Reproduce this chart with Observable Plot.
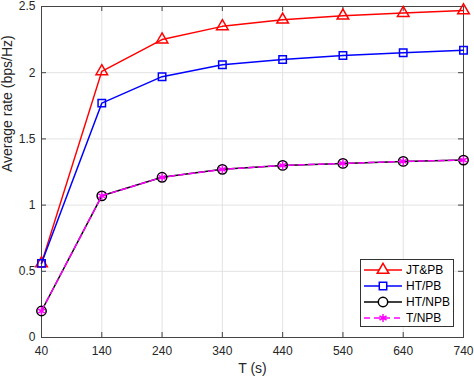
<!DOCTYPE html>
<html><head><meta charset="utf-8">
<script src="https://cdn.jsdelivr.net/npm/d3@7"></script>
<script src="https://cdn.jsdelivr.net/npm/@observablehq/plot@0.6"></script>
<style>
body{margin:0;background:#fff;font-family:"Liberation Sans",Arial,sans-serif;}
#wrap{position:relative;width:474px;height:379px;}
#legend{position:absolute;left:360px;top:259px;width:94px;height:68px;border:1px solid #333;background:#fff;box-sizing:border-box;}
</style></head>
<body><div id="wrap"><div id="legend"></div></div>
<script>
const T = [40, 140, 240, 340, 440, 540, 640, 740];
const jtpb = [0.56, 2.01, 2.25, 2.35, 2.40, 2.43, 2.45, 2.47];
const htpb = [0.56, 1.77, 1.97, 2.06, 2.10, 2.13, 2.15, 2.17];
const htnpb = [0.20, 1.07, 1.21, 1.27, 1.30, 1.315, 1.33, 1.34];
const tnpb = [0.20, 1.07, 1.21, 1.27, 1.30, 1.315, 1.33, 1.34];
const xTicks = [40, 140, 240, 340, 440, 540, 640, 740];
const yTicks = [0, 0.5, 1, 1.5, 2, 2.5];
const xLabel = "T (s)";
const yLabel = "Average rate (bps/Hz)";
const series = [
  {name: "JT&PB", values: jtpb, color: "#ff0000", symbol: "triangle", r: 4.3, dash: null},
  {name: "HT/PB", values: htpb, color: "#0000ff", symbol: "square", r: 4.2, dash: null},
  {name: "HT/NPB", values: htnpb, color: "#000000", symbol: "circle", r: 4.7, dash: null},
  {name: "T/NPB", values: tnpb, color: "#ff00ff", symbol: "asterisk", r: 3.8, dash: "6,4"}
];
const W = 474, H = 379, mL = 41, mR = 11, mT = 6, mB = 42;
const pw = W - mL - mR, ph = H - mT - mB;
const marks = [
  Plot.gridX(xTicks, {stroke: "#e3e3e3", strokeOpacity: 1}),
  Plot.gridY(yTicks, {stroke: "#e3e3e3", strokeOpacity: 1}),
  Plot.frame({stroke: "#444", strokeWidth: 1}),
  Plot.tickX(xTicks, {x: d => d, insetTop: ph - 5, stroke: "#444"}),
  Plot.tickX(xTicks, {x: d => d, insetBottom: ph - 5, stroke: "#444"}),
  Plot.tickY(yTicks, {y: d => d, insetRight: pw - 5, stroke: "#444"}),
  Plot.tickY(yTicks, {y: d => d, insetLeft: pw - 5, stroke: "#444"}),
  Plot.axisX({ticks: xTicks, tickSize: 0, tickPadding: 9, fontSize: 12, label: null, tickFormat: d => String(d)}),
  Plot.axisY({ticks: yTicks, tickSize: 0, tickPadding: 6, fontSize: 12, label: null, tickFormat: d => String(d)}),
  Plot.text([xLabel], {text: d => d, frameAnchor: "bottom", dy: 35, fontSize: 14, fill: "#262626"}),
  Plot.text([yLabel], {text: d => d, frameAnchor: "left", dx: -34, rotate: -90, fontSize: 14, fill: "#262626"})
];
for (const s of series) {
  const data = T.map((t, i) => ({t, v: s.values[i]}));
  marks.push(Plot.line(data, {x: "t", y: "v", stroke: s.color, strokeWidth: 1.5, strokeDasharray: s.dash}));
  marks.push(Plot.dot(data, {x: "t", y: "v", symbol: () => s.symbol, r: s.r, stroke: s.color, strokeWidth: 1.5, fill: "none"}));
}
const chart = Plot.plot({
  width: W, height: H, marginLeft: mL, marginRight: mR, marginTop: mT, marginBottom: mB,
  x: {domain: [40, 740]},
  y: {domain: [0, 2.5]},
  symbol: {type: "identity"},
  style: {fontFamily: "'Liberation Sans', Arial, sans-serif", fontSize: "12px", color: "#262626", background: "#fff"},
  marks
});
document.getElementById("wrap").prepend(chart);

// legend
const lg = d3.select("#legend").append("svg").attr("width", 92).attr("height", 66);
series.forEach((s, i) => {
  const y = 10 + i * 16;
  const g = lg.append("g");
  g.append("line").attr("x1", 3).attr("x2", 41).attr("y1", y).attr("y2", y)
    .attr("stroke", s.color).attr("stroke-width", 1.5).attr("stroke-dasharray", s.dash);
  const sym = {triangle: d3.symbolTriangle, square: d3.symbolSquare, circle: d3.symbolCircle, asterisk: d3.symbolAsterisk}[s.symbol];
  g.append("path").attr("d", d3.symbol(sym, Math.PI * s.r * s.r)())
    .attr("transform", `translate(22,${y})`)
    .attr("fill", s.symbol === "asterisk" ? "none" : "#fff").attr("stroke", s.color).attr("stroke-width", 1.5);
  g.append("text").attr("x", 45).attr("y", y).attr("dy", "0.35em")
    .attr("font-size", 12).attr("fill", "#000").attr("font-family", "'Liberation Sans', Arial, sans-serif").text(s.name);
});
</script></body></html>
